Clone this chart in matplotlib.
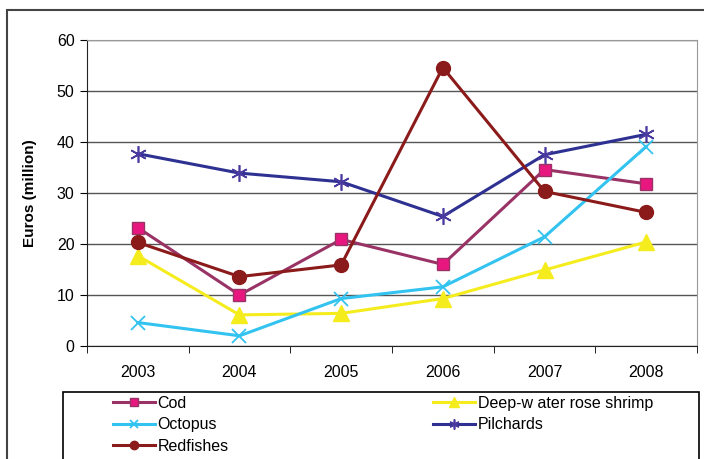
import numpy as np
import matplotlib
matplotlib.use("Agg")
import matplotlib.pyplot as plt
from matplotlib.patches import Rectangle

plt.rcParams['font.family'] = ['Liberation Sans', 'DejaVu Sans']

years = ['2003', '2004', '2005', '2006', '2007', '2008']
cod = [23.2, 10.0, 20.9, 16.0, 34.6, 31.8]
octopus = [4.6, 2.0, 9.3, 11.6, 21.4, 39.1]
redfishes = [20.3, 13.6, 15.9, 54.6, 30.3, 26.2]
shrimp = [17.7, 6.1, 6.4, 9.3, 14.9, 20.4]
pilchards = [37.7, 33.9, 32.2, 25.4, 37.5, 41.5]

W, H = 704, 459
fig = plt.figure(figsize=(W/100, H/100), dpi=100)
ax = fig.add_axes([87/W, 1-346/H, 610/W, 306/H])

x = np.arange(len(years))
l_cod, = ax.plot(x, cod, color='#993366', lw=2.2, marker='s', ms=9, mfc='#E8177F', mec='#993366', label='Cod')
l_shr, = ax.plot(x, shrimp, color='#F5EC1E', lw=2.2, marker='^', ms=11, mfc='#F5EC1E', mec='#F5EC1E', label='Deep-w ater rose shrimp')
l_oct, = ax.plot(x, octopus, color='#33C3F0', lw=2.2, marker='x', ms=10, mew=1.3, label='Octopus')
l_pil, = ax.plot(x, pilchards, color='#2E3192', lw=2.2, marker=(6, 2, 0), ms=12, mew=1.2, mec='#4A3AA0', label='Pilchards')
l_red, = ax.plot(x, redfishes, color='#8B1A1A', lw=2.2, marker='o', ms=10, mfc='#8B1A1A', mec='#8B1A1A', label='Redfishes')

ax.set_xlim(-0.5, 5.5)
ax.set_ylim(0, 60)
ax.set_yticks(range(0, 61, 10))
ax.set_xticks(x)
ax.set_xticklabels(years)
ax.set_xticks(np.arange(-0.5, 6, 1), minor=True)
ax.tick_params(axis='x', which='major', length=0, pad=14, labelsize=11.5)
ax.tick_params(axis='x', which='minor', length=5, direction='out')
ax.tick_params(axis='y', length=5, direction='out', labelsize=11.5, pad=4)
ax.yaxis.grid(True, color='#555555', lw=1)
ax.set_axisbelow(True)
for s in ['top', 'right']:
    ax.spines[s].set_color('#999999')
for s in ['left', 'bottom']:
    ax.spines[s].set_color('#222222')
ax.set_ylabel('Euros (million)', fontsize=11, fontweight='bold', labelpad=14)

handles = [l_cod, l_oct, l_red, l_shr, l_pil]
leg = fig.legend(handles, [h.get_label() for h in handles],
                 loc='upper left', bbox_to_anchor=(113/W, 1-396/H), ncol=2,
                 fontsize=11.5, frameon=False,
                 markerscale=0.6, handlelength=2.6, handletextpad=0.2,
                 columnspacing=12.8, labelspacing=0.4, borderpad=0,
                 borderaxespad=0)

# legend box, running off the bottom edge like the source
fig.patches.append(Rectangle((63/W, -0.1), 636/W, 1-392/H+0.1, transform=fig.transFigure,
                             fill=False, edgecolor='black', lw=1.2))
# outer chart frame
fig.patches.append(Rectangle((7/W, -0.1), 1.0, 1-10/H+0.1, transform=fig.transFigure,
                             fill=False, edgecolor='#444444', lw=1.5))

fig.savefig('out.png', dpi=100)
